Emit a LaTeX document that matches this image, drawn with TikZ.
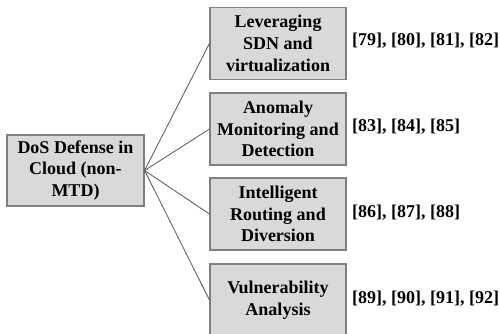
\documentclass[tikz,border=0pt]{standalone}
\usepackage{fontspec}
\setmainfont{Liberation Serif}
\begin{document}
\begin{tikzpicture}[x=1pt,y=-1pt,
  box/.style={draw=boxline, fill=boxfill, line width=1.1pt, align=center,
    inner sep=0pt, font=\fontsize{18}{21.7}\selectfont\bfseries},
  leaf/.style={box, minimum width=136pt, minimum height=72pt},
  refs/.style={anchor=west, inner sep=0pt, font=\fontsize{18}{21.7}\selectfont\bfseries},
  link/.style={draw=linkgray, line width=0.8pt}]
\definecolor{boxfill}{HTML}{D9D9D9}
\definecolor{boxline}{HTML}{7F7F7F}
\definecolor{linkgray}{HTML}{555555}
\useasboundingbox (0,0) rectangle (500,334);

% root of the taxonomy
\node[box, minimum width=137pt, minimum height=71pt] (root) at (75.5,170.5)
  {DoS Defense in\\Cloud (non-\\MTD)};

% the four branches
\node[leaf] (sdn)  at (278,43.5)  {Leveraging\\SDN and\\virtualization};
\node[leaf] (anom) at (278,129)   {Anomaly\\Monitoring and\\Detection};
\node[leaf] (rout) at (278,214)   {Intelligent\\Routing and\\Diversion};
\node[leaf] (vuln) at (278,300)   {Vulnerability\\Analysis};

% cited works for each branch
\node[refs] (rsdn)  at (352,41)  {[79], [80], [81], [82]};
\node[refs] (ranom) at (352,127) {[83], [84], [85]};
\node[refs] (rrout) at (352,213) {[86], [87], [88]};
\node[refs] (rvuln) at (352,299) {[89], [90], [91], [92]};

% connectors from the root to each branch
\foreach \b in {sdn,anom,rout,vuln}
  \draw[link] (root.east) -- (\b.west);
\end{tikzpicture}
\end{document}
